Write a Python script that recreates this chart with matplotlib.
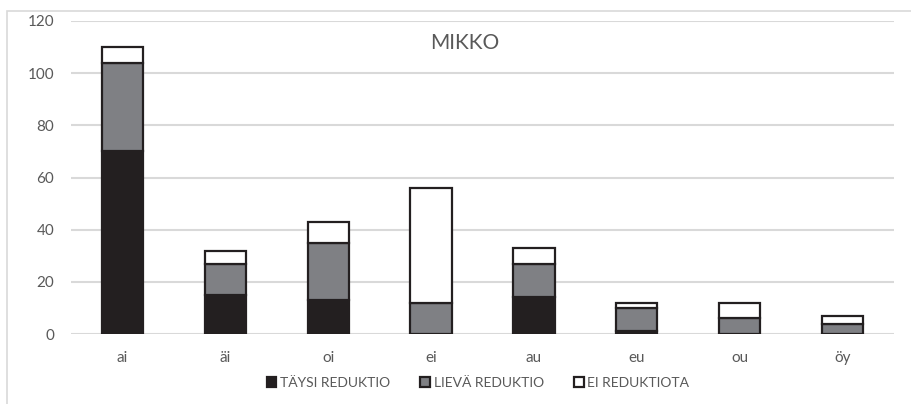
import matplotlib
matplotlib.use("Agg")
import matplotlib.pyplot as plt
from matplotlib.patches import Rectangle
import numpy as np

plt.rcParams['font.family'] = ['Lato', 'DejaVu Sans']

categories = ["ai", "äi", "oi", "ei", "au", "eu", "ou", "öy"]
taysi = [70, 15, 13, 0, 14, 1, 0, 0]
lieva = [34, 12, 22, 12, 13, 9, 6, 4]
ei_red = [6, 5, 8, 44, 6, 2, 6, 3]
series_names = ["TÄYSI REDUKTIO", "LIEVÄ REDUKTIO", "EI REDUKTIOTA"]
yticks = [0, 20, 40, 60, 80, 100, 120]

colors = ["#231f20", "#7f8084", "#ffffff"]
text_col = "#595959"
grid_col = "#d9d9d9"

fig = plt.figure(figsize=(9.12, 4.04), dpi=100)
fig.patch.set_facecolor("white")
fig.patches.append(Rectangle((7 / 912, -0.2), 2, (404 - 11) / 404 + 0.2,
                             transform=fig.transFigure, fill=False,
                             edgecolor=grid_col, lw=1.2, zorder=0))

ax = fig.add_axes([71 / 912, (404 - 334) / 404, (894 - 71) / 912, (334 - 21) / 404])
x = np.arange(len(categories))
bottom = np.zeros(len(categories))
handles = []
for vals, col, name in zip([taysi, lieva, ei_red], colors, series_names):
    v = np.array(vals, dtype=float)
    h = ax.bar(x, v, 0.4, bottom=bottom, color=col, edgecolor="#231f20",
               linewidth=1.6, label=name, zorder=3)
    handles.append(h)
    bottom += v

ax.set_xlim(-0.5, len(categories) - 0.5)
ax.set_ylim(0, 120)
ax.set_yticks(yticks)
ax.set_xticks(x)
ax.set_xticklabels(categories)
ax.yaxis.grid(True, color=grid_col, linewidth=1.5, zorder=0)
ax.set_axisbelow(True)
for s in ax.spines.values():
    s.set_visible(False)
ax.tick_params(axis="both", length=0, colors=text_col, labelsize=11)
ax.tick_params(axis="x", pad=12)
ax.tick_params(axis="y", pad=12)

ax.text(0.478, 0.93, "MIKKO", transform=ax.transAxes, ha="center", va="center",
        fontsize=15, color=text_col)

fig.legend(handles=handles, labels=series_names, loc="center",
           bbox_to_anchor=(478 / 912, (404 - 383) / 404), ncol=3, frameon=False,
           handlelength=0.7, handleheight=0.7, handletextpad=0.25,
           columnspacing=2.2, fontsize=10, labelcolor=text_col)

fig.savefig("out.png", dpi=100, facecolor="white")
